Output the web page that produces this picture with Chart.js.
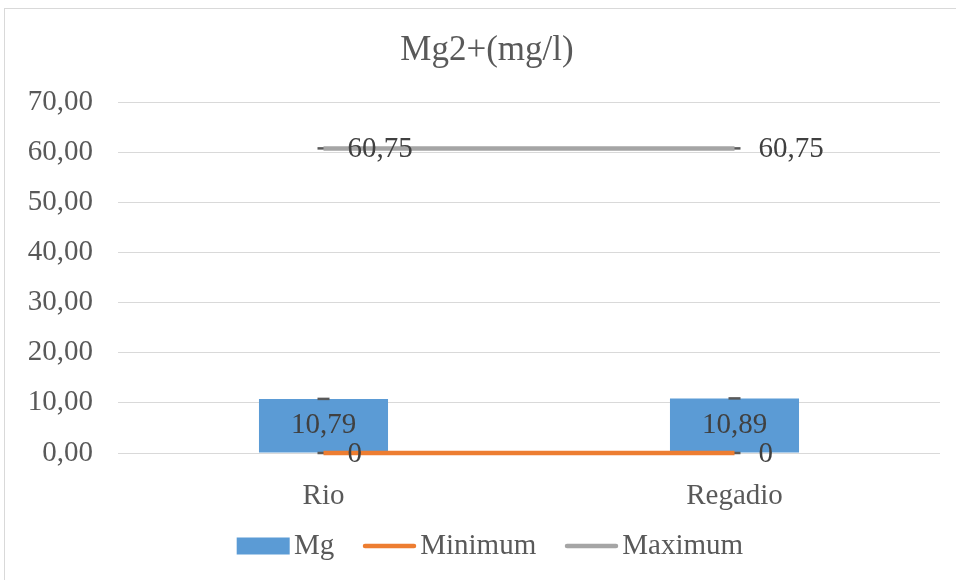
<!DOCTYPE html>
<html><head><meta charset="utf-8">
<script src="https://cdn.jsdelivr.net/npm/chart.js@4/dist/chart.umd.min.js"></script>
<style>html,body{margin:0;padding:0;background:#fff;overflow:hidden;}</style>
</head><body>
<canvas id="c" width="956" height="580" style="display:block;width:956px;height:580px;"></canvas>
<script>
// ---- data ----
const categories = ['Rio', 'Regadio'];
const mgValues = [10.79, 10.89];
const minValues = [0, 0];
const maxValues = [60.75, 60.75];
const seriesNames = ['Mg', 'Minimum', 'Maximum'];
const titleText = 'Mg2+(mg/l)';
const yMin = 0, yMax = 70, yStep = 10;

// ---- style ----
const SERIF = "'Liberation Serif', 'Times New Roman', serif";
const colors = ['#5b9bd5', '#ed7d31', '#a5a5a5'];
const FS = 29;

function fmt(v){ return String(v).replace('.', ','); }

function legendImg(color, isLine){
  const c = document.createElement('canvas');
  c.width = 84; c.height = 18;
  const g = c.getContext('2d');
  if (isLine){
    g.strokeStyle = color; g.lineWidth = 4.5; g.lineCap = 'round';
    g.beginPath(); g.moveTo(32, 9); g.lineTo(81, 9); g.stroke();
  } else {
    g.fillStyle = color; g.fillRect(30, 0.5, 53, 17);
  }
  return c;
}
const legendImgs = [legendImg(colors[0], false), legendImg(colors[1], true), legendImg(colors[2], true)];

const overlay = {
  id: 'overlay',
  afterLayout(chart){
    if (chart.titleBlock) chart.titleBlock.left += 13;
  },
  beforeDraw(chart){
    const ctx = chart.ctx;
    ctx.save();
    ctx.strokeStyle = '#d9d9d9'; ctx.lineWidth = 1;
    ctx.strokeRect(4.5, 8.5, 2000, 2000);
    ctx.restore();
  },
  beforeDatasetDraw(chart, args){
    if (args.index === 0) return;
    drawCaps(chart, args.meta);
  },
  afterDatasetDraw(chart, args){
    if (args.index !== 0) return;
    drawCaps(chart, args.meta);
  },
  afterDatasetsDraw(chart){
    const ctx = chart.ctx;
    ctx.save();
    ctx.font = FS + 'px ' + SERIF;
    ctx.fillStyle = '#404040';
    ctx.textBaseline = 'middle';
    chart.data.datasets.forEach((ds, i) => {
      const meta = chart.getDatasetMeta(i);
      meta.data.forEach((el, j) => {
        const txt = fmt(ds.data[j]);
        if (ds.type === 'bar'){
          ctx.textAlign = 'center';
          ctx.fillText(txt, el.x, (el.y + el.base) / 2);
        } else {
          ctx.textAlign = 'left';
          ctx.fillText(txt, el.x + 24, el.y + 1);
        }
      });
    });
    ctx.restore();
  }
};
function drawCaps(chart, meta){
  const ctx = chart.ctx;
  ctx.save();
  ctx.strokeStyle = '#595959'; ctx.lineWidth = 2.5;
  meta.data.forEach(el => {
    ctx.beginPath();
    ctx.moveTo(el.x - 6, el.y); ctx.lineTo(el.x + 6, el.y);
    ctx.stroke();
  });
  ctx.restore();
}

new Chart(document.getElementById('c'), {
  type: 'bar',
  data: {
    labels: categories,
    datasets: [
      { type: 'bar', label: seriesNames[0], data: mgValues, backgroundColor: colors[0], order: 3,
        barPercentage: 0.314, categoryPercentage: 1 },
      { type: 'line', label: seriesNames[1], data: minValues, borderColor: colors[1], backgroundColor: colors[1],
        borderWidth: 4.5, pointRadius: 0, borderCapStyle: 'butt', fill: false, order: 1, clip: 10 },
      { type: 'line', label: seriesNames[2], data: maxValues, borderColor: colors[2], backgroundColor: colors[2],
        borderWidth: 4.5, pointRadius: 0, borderCapStyle: 'butt', fill: false, order: 2, clip: 10 }
    ]
  },
  options: {
    responsive: false, animation: false, devicePixelRatio: 1,
    layout: { padding: { left: 21, right: 16, top: 0, bottom: 9.5 } },
    scales: {
      x: {
        grid: { display: false }, border: { display: false },
        ticks: { font: { family: SERIF, size: FS }, color: '#595959', padding: 17.6 },
        afterFit(s){ s.height = 68.5; }
      },
      y: {
        min: yMin, max: yMax,
        ticks: { stepSize: yStep, font: { family: SERIF, size: FS }, color: '#595959', padding: 25,
                 callback: v => v.toFixed(2).replace('.', ',') },
        grid: { color: '#d9d9d9', lineWidth: 1, drawTicks: false },
        border: { display: false },
        afterFit(s){ s.width = 97; }
      }
    },
    plugins: {
      title: { display: true, text: titleText, color: '#595959',
               font: { family: SERIF, size: 35, weight: 'normal', lineHeight: 1.2 },
               padding: { top: 30, bottom: 30 } },
      legend: {
        position: 'bottom',
        labels: {
          usePointStyle: true, pointStyleWidth: 61.5, padding: 10,
          color: '#595959', font: { family: SERIF, size: FS },
          generateLabels(chart){
            return chart.data.datasets.map((ds, i) => ({
              text: ds.label, pointStyle: legendImgs[i], fillStyle: colors[i], strokeStyle: colors[i],
              lineWidth: 0, hidden: false, datasetIndex: i, fontColor: '#595959'
            }));
          }
        }
      },
      tooltip: { enabled: false }
    }
  },
  plugins: [overlay]
});
</script>
</body></html>
